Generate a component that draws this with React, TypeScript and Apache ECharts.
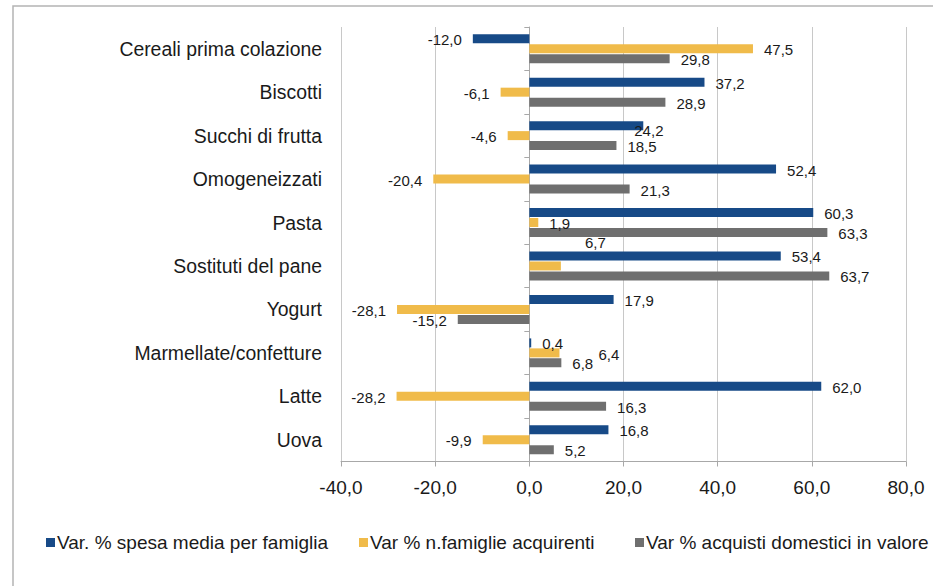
import React, { useEffect, useRef } from "react";
import * as echarts from "echarts";

const categories = [
  "Cereali prima colazione",
  "Biscotti",
  "Succhi di frutta",
  "Omogeneizzati",
  "Pasta",
  "Sostituti del pane",
  "Yogurt",
  "Marmellate/confetture",
  "Latte",
  "Uova",
];
const seriesNames = [
  "Var. % spesa media per famiglia",
  "Var % n.famiglie acquirenti",
  "Var % acquisti domestici in valore",
];
const spesaMedia = [-12.0, 37.2, 24.2, 52.4, 60.3, 53.4, 17.9, 0.4, 62.0, 16.8];
const famiglieAcquirenti = [47.5, -6.1, -4.6, -20.4, 1.9, 6.7, -28.1, 6.4, -28.2, -9.9];
const acquistiValore = [29.8, 28.9, 18.5, 21.3, 63.3, 63.7, -15.2, 6.8, 16.3, 5.2];
const xTicks = [-40, -20, 0, 20, 40, 60, 80];

// manual label nudges [seriesIndex, categoryIndex, dx, dy] as in the source chart
const labelNudges: [number, number, number, number][] = [
  [0, 2, -20, 5],
  [1, 5, 13, -23],
  [1, 7, 28, 2],
];

const colors = ["#174A87", "#F0BB4A", "#6F6F6F"];
const FONT = "'Liberation Sans', Arial, Helvetica, sans-serif";
const fmt = (v: number) => v.toFixed(1).replace(".", ",");

export default function App() {
  const ref = useRef<HTMLDivElement>(null);
  useEffect(() => {
    document.body.style.margin = "0";
    if (!ref.current) return;
    const chart = echarts.init(ref.current, undefined, { renderer: "svg" });
    const all = [spesaMedia, famiglieAcquirenti, acquistiValore];
    const series = all.map((arr, si) => ({
      name: seriesNames[si],
      type: "bar",
      barWidth: 9,
      barGap: "11%",
      itemStyle: { color: colors[si] },
      data: arr.map((v, ci) => {
        const n = labelNudges.find((x) => x[0] === si && x[1] === ci);
        return {
          value: v,
          label: {
            position: v < 0 ? "left" : "right",
            offset: n ? [n[2], n[3]] : [0, 1],
          },
        };
      }),
      label: {
        show: true,
        distance: 11,
        color: "#1a1a1a",
        fontSize: 15,
        fontFamily: FONT,
        formatter: (p: any) => fmt(p.value),
      },
    }));
    const legendLefts = [41, 354, 630];
    chart.setOption({
      animation: false,
      backgroundColor: "#ffffff",
      textStyle: { fontFamily: FONT },
      grid: { left: 341, right: 27, top: 27, height: 434.5, outerBoundsMode: "none", containLabel: false },
      xAxis: {
        type: "value",
        min: xTicks[0],
        max: xTicks[xTicks.length - 1],
        interval: 20,
        axisLine: { show: true, lineStyle: { color: "#a8a8a8", width: 1 } },
        axisTick: { show: true, length: 5, lineStyle: { color: "#a8a8a8" } },
        splitLine: { show: true, lineStyle: { color: "#c8c8c8", width: 1 } },
        axisLabel: {
          margin: 16,
          color: "#1a1a1a",
          fontSize: 19,
          fontFamily: FONT,
          formatter: (v: number) => fmt(v),
        },
      },
      yAxis: {
        type: "category",
        inverse: true,
        data: categories,
        axisLine: { show: true, onZero: true, lineStyle: { color: "#a8a8a8", width: 1 } },
        axisTick: { show: true, length: 5, lineStyle: { color: "#a8a8a8" } },
        axisLabel: {
          margin: 19,
          color: "#1a1a1a",
          fontSize: 19.4,
          fontFamily: FONT,
        },
      },
      legend: seriesNames.map((name, i) => ({
        data: [name],
        left: legendLefts[i],
        top: 528,
        itemWidth: 9,
        itemHeight: 9,
        itemGap: 0,
        icon: "rect",
        textStyle: { color: "#1a1a1a", fontSize: 19, fontFamily: FONT, padding: [0, 0, 0, -3] },
        selectedMode: false,
      })),
      graphic: [
        {
          type: "rect",
          shape: { x: 13, y: 6, width: 1000, height: 1000 },
          style: { fill: "none", stroke: "#b4b4b4", lineWidth: 1.5 },
          silent: true,
        },
      ],
      series,
    });
    return () => chart.dispose();
  }, []);
  return <div ref={ref} style={{ width: 933, height: 586 }} />;
}
